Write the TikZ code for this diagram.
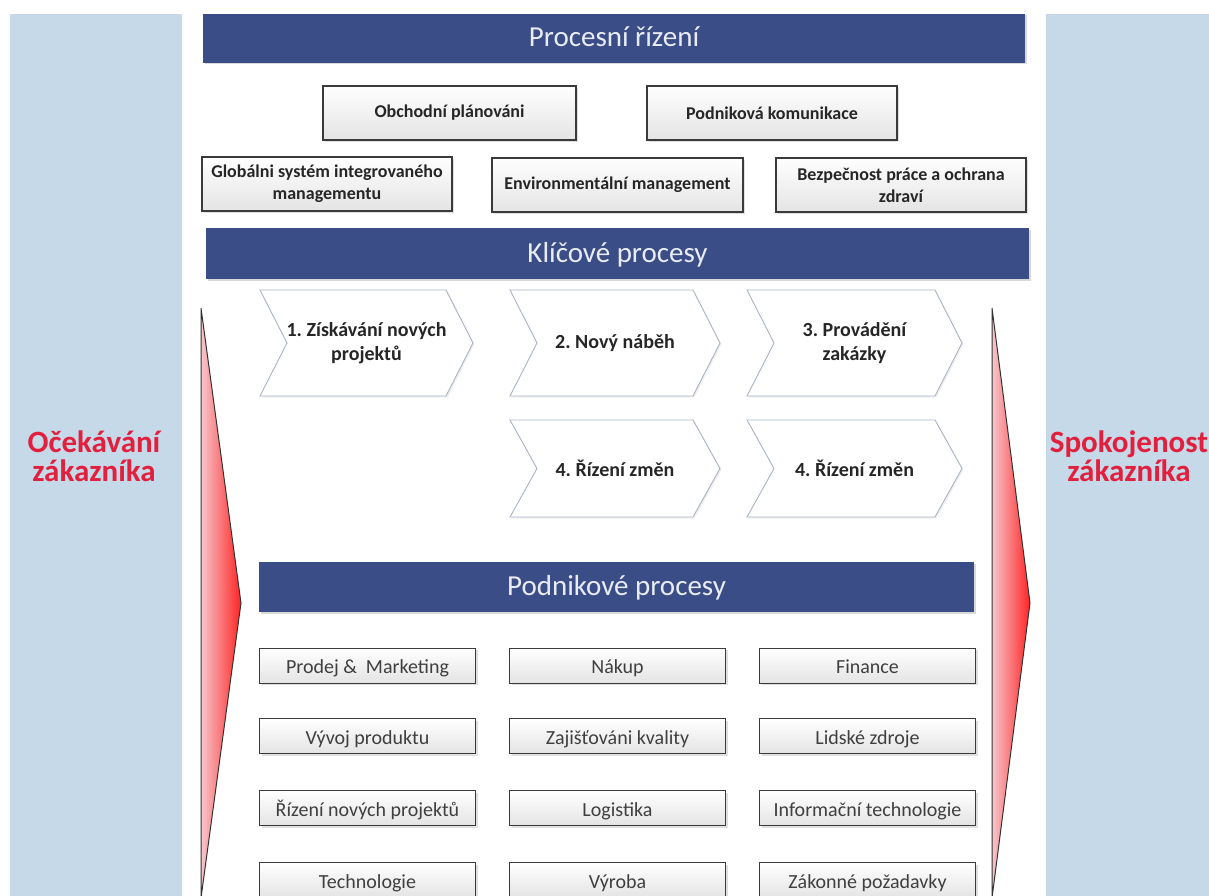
\documentclass[tikz,border=0pt]{standalone}
\usepackage{fontspec}
\setmainfont{Carlito}
\usetikzlibrary{shadows}
\frenchspacing

\definecolor{panelblue}{HTML}{C5D9E9}
\definecolor{navy}{HTML}{3B4D86}
\definecolor{hdrtext}{HTML}{E9ECF4}
\definecolor{boxline}{HTML}{3A3A3A}
\definecolor{boxgray}{HTML}{E4E4E4}
\definecolor{darktext}{HTML}{262626}
\definecolor{proctext}{HTML}{3F3F3F}
\definecolor{chevline}{HTML}{AAB3C4}
\definecolor{redtext}{HTML}{E2203D}
\definecolor{pinkarrow}{HTML}{F6C6CC}
\definecolor{redarrow}{HTML}{FF2424}

% chevron: name, left, right, top, bottom, text
\newcommand{\chevronshape}[6]{%
  \pgfmathsetmacro{\cxm}{(#2+#3)/2}%
  \pgfmathsetmacro{\cym}{(#4+#5)/2}%
  \pgfmathsetmacro{\tipin}{#3-27}%
  \pgfmathsetmacro{\notchx}{#2+27}%
  \draw[chev] (#2,#4) -- (\tipin,#4) -- (#3,\cym) -- (\tipin,#5) -- (#2,#5) -- (\notchx,\cym) -- cycle;
  \node[chevtext] (#1) at (\cxm,\cym) {#6};
}

\begin{document}
\begin{tikzpicture}[x=1pt,y=-1pt,
  panel/.style={fill=panelblue, draw=none},
  header/.style={fill=navy, draw=none, text=hdrtext, inner sep=0pt,
    font=\fontsize{29}{34}\selectfont, text height=21pt, text depth=4pt,
    drop shadow={shadow xshift=1.5pt, shadow yshift=-1.5pt, opacity=0.3}},
  topbox/.style={draw=boxline, line width=1.2pt, top color=white, bottom color=boxgray,
    minimum height=54pt, align=center, inner sep=2pt, text=darktext,
    font=\fontsize{18}{22}\selectfont\bfseries,
    drop shadow={shadow xshift=2pt, shadow yshift=-2pt, opacity=0.25}},
  procbox/.style={draw=boxline, line width=1pt, top color=white, bottom color=boxgray,
    minimum width=216pt, minimum height=35pt, inner sep=0pt, text=proctext,
    font=\fontsize{20}{24}\selectfont, text height=18pt, text depth=2pt,
    drop shadow={shadow xshift=2pt, shadow yshift=-2pt, opacity=0.25}},
  chev/.style={draw=chevline, line width=0.9pt, fill=white,
    drop shadow={shadow xshift=1.5pt, shadow yshift=-1.5pt, opacity=0.12}},
  chevtext/.style={align=center, text=darktext, font=\fontsize{20}{24}\selectfont\bfseries},
  sidearrow/.style={draw=black!80, line width=1pt, left color=pinkarrow, right color=redarrow},
  sidetext/.style={align=center, text=redtext, font=\fontsize{31}{29}\selectfont\bfseries}
]
\useasboundingbox (0,0) rectangle (1209,896);
\clip (0,0) rectangle (1209,896);

% side panels
\fill[panel] (10,14) rectangle (182,900);
\fill[panel] (1046,14) rectangle (1212,900);

% customer arrows
\draw[sidearrow] (201,308) -- (241,603) -- (201,898) -- cycle;
\draw[sidearrow] (992,308) -- (1030,603) -- (992,898) -- cycle;

\node[sidetext] (expect) at (94,456) {Očekávání\\zákazníka};
\node[sidetext] (satisf) at (1129,456) {Spokojenost\\zákazníka};

% process management
\node[header, minimum width=822pt, minimum height=49pt] (hdrA) at (614,38.5) {Procesní řízení};
\node[topbox, minimum width=253pt] (plan) at (449.5,113) {Obchodní plánováni};
\node[topbox, minimum width=250pt] (komun) at (772,113) {Podniková komunikace};
\node[topbox, minimum width=250pt] (gims) at (327,184) {Globálni systém integrovaného\\managementu};
\node[topbox, minimum width=251pt] (envi) at (617.5,185) {Environmentální management};
\node[topbox, minimum width=250pt] (bozp) at (901,185) {Bezpečnost práce a ochrana\\zdraví};

% key processes
\node[header, minimum width=823pt, minimum height=51pt] (hdrB) at (617.5,253.5) {Klíčové procesy};
\chevronshape{k1}{260}{473}{290}{396}{1. Získávání nových\\projektů}
\chevronshape{k2}{510}{720}{290}{396}{2. Nový náběh}
\chevronshape{k3}{747}{962}{290}{396}{3. Provádění\\zakázky}
\chevronshape{k4}{510}{720}{420}{517}{4. Řízení změn}
\chevronshape{k5}{747}{962}{420}{517}{4. Řízení změn}

% business processes
\node[header, minimum width=715pt, minimum height=50pt] (hdrC) at (616.5,587) {Podnikové procesy};

\node[procbox] (p11) at (367.5,665.5) {Prodej \&\ \ Marketing};
\node[procbox] (p12) at (617.5,665.5) {Nákup};
\node[procbox] (p13) at (867.5,665.5) {Finance};

\node[procbox] (p21) at (367.5,736) {Vývoj produktu};
\node[procbox] (p22) at (617.5,736) {Zajišťováni kvality};
\node[procbox] (p23) at (867.5,736) {Lidské zdroje};

\node[procbox] (p31) at (367.5,808) {Řízení nových projektů};
\node[procbox] (p32) at (617.5,808) {Logistika};
\node[procbox] (p33) at (867.5,808) {Informační technologie};

\node[procbox] (p41) at (367.5,880) {Technologie};
\node[procbox] (p42) at (617.5,880) {Výroba};
\node[procbox] (p43) at (867.5,880) {Zákonné požadavky};
\end{tikzpicture}
\end{document}
